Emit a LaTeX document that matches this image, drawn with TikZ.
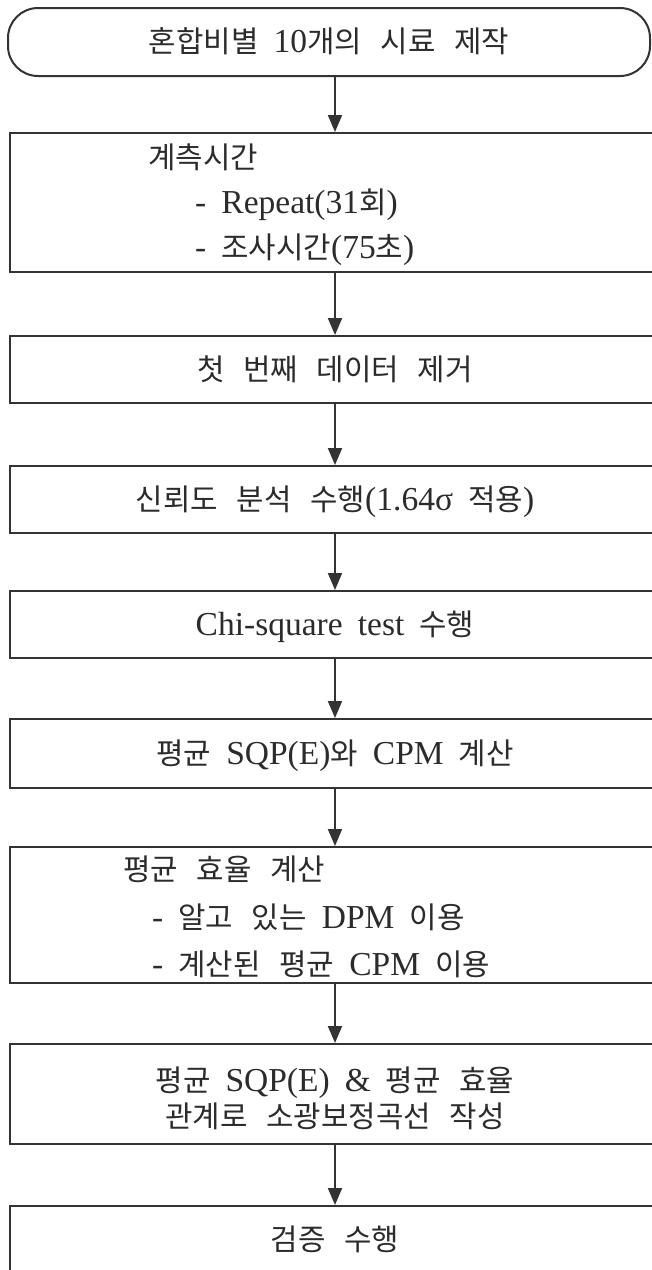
\documentclass[tikz,border=0pt]{standalone}
\usepackage{fontspec}
\setmainfont{Liberation Serif}[WordSpace=1.8]
\newfontfamily\korfont{Noto Sans CJK KR}[Scale=0.89,WordSpace=2.8]
\newcommand{\kor}[1]{{\korfont #1}}
\usetikzlibrary{arrows.meta,positioning,calc}
\definecolor{cLine}{HTML}{333333}
\definecolor{cText}{HTML}{2B2B2B}
\tikzset{
  flow/.style={-{Triangle[length=17pt,width=14pt]},line width=2pt,draw=cLine},
  boxtext/.style={font=\fontsize{33.5}{36}\selectfont,text=cText,inner sep=0pt,
                  text height=27pt,text depth=6pt},
  startbox/.style={boxtext,draw=cLine,line width=2pt,rounded corners=30pt,
                   minimum width=642pt,minimum height=68pt},
  stepbox/.style={boxtext,draw=cLine,line width=2pt,minimum width=650pt,minimum height=67pt},
  twobox/.style={stepbox,align=center,text height={},text depth={}},
  linetext/.style={boxtext,anchor=west}
}
\begin{document}
\begin{tikzpicture}[x=1pt,y=-1pt]
  \clip (0,0) rectangle (652,1270);
  \node[startbox] (start) at (329,42) {\kor{혼합비별} 10\kor{개의 시료 제작}};

  \node[stepbox,minimum height=139pt] (meas) at (335,202.5) {};
  \node[linetext] (meas-head) at (148,158) {\kor{계측시간}};
  \node[linetext] (meas-rep) at (195,203) {- Repeat(31\kor{회})};
  \node[linetext] (meas-time) at (195,248) {- \kor{조사시간}(75\kor{초})};

  \node[stepbox] (dropfirst) at (335,369.5) {\kor{첫 번째 데이터 제거}};
  \node[stepbox] (conf) at (335,499.5) {\kor{신뢰도 분석 수행}(1.64σ \kor{적용})};
  \node[stepbox] (chisq) at (335,624.5) {Chi-square test \kor{수행}};
  \node[stepbox,minimum height=69pt] (meancpm) at (335,753.5) {\kor{평균} SQP(E)\kor{와} CPM \kor{계산}};

  \node[stepbox,minimum height=136pt] (meaneff) at (335,915) {};
  \node[linetext] (eff-head) at (123,870) {\kor{평균 효율 계산}};
  \node[linetext] (eff-dpm) at (152,918) {- \kor{알고 있는} DPM \kor{이용}};
  \node[linetext] (eff-cpm) at (152,965) {- \kor{계산된 평균} CPM \kor{이용}};

  \node[twobox,minimum height=100pt] (curve) at (335,1094)
    {\rule{0pt}{33pt}\kor{평균} SQP(E) \& \kor{평균 효율}\\\kor{관계로 소광보정곡선 작성}};
  \node[stepbox,minimum height=68pt] (verify) at (335,1240) {\kor{검증 수행}};

  \draw[flow] (start.south -| meas.north) -- (meas.north);
  \foreach \a/\b in {meas/dropfirst,dropfirst/conf,conf/chisq,chisq/meancpm,
                     meancpm/meaneff,meaneff/curve,curve/verify} {
    \draw[flow] (\a.south) -- (\b.north);
  }
\end{tikzpicture}
\end{document}
